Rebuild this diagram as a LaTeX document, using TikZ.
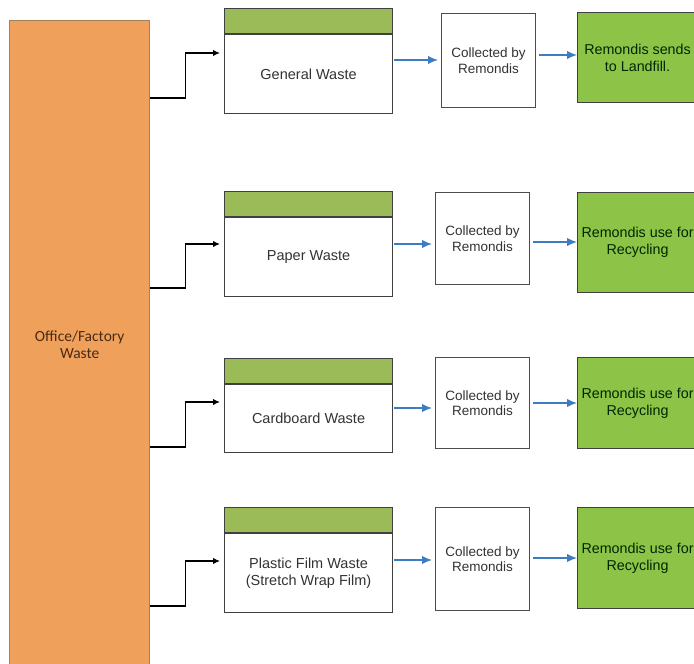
\documentclass[tikz,border=0pt]{standalone}
\usepackage{fontspec}
\setmainfont{Liberation Sans}
\newfontfamily\calibrifont{Carlito}
\usepackage{xcolor}
\usepackage{tikz}
\usetikzlibrary{calc,arrows.meta}
\definecolor{wasteorange}{HTML}{EFA15B}
\definecolor{wastetext}{HTML}{4A2A12}
\definecolor{binhead}{HTML}{9BBB59}
\definecolor{fategreen}{HTML}{8DC447}
\definecolor{flowblue}{HTML}{3D7CC2}
\tikzset{source/.style={draw=brown!60!gray,line width=1.4pt,fill=wasteorange,anchor=north west,minimum width=140pt,minimum height=648pt,align=center,text=wastetext,font=\calibrifont\fontsize{15.5}{17}\selectfont},
	bin head/.style={draw=black!75,line width=1.1pt,fill=binhead,anchor=north west,minimum width=168pt,minimum height=25pt,inner sep=0pt},
	bin/.style={draw=black!75,line width=1.1pt,fill=white,anchor=north west,minimum width=168pt,inner sep=0pt,align=center,text=black!80,font=\fontsize{14.5}{17}\selectfont},
	collect/.style={draw=black!70,line width=1.1pt,fill=white,anchor=north west,minimum width=94pt,inner sep=0pt,align=center,text=black!80,font=\fontsize{13.5}{15.5}\selectfont},
	fate/.style={draw=black!75,line width=1.1pt,fill=fategreen,anchor=north west,minimum width=120pt,inner sep=0pt,align=center,text=green!15!black,font=\fontsize{14.3}{17}\selectfont},
	feed/.style={line width=1.5pt,-{Latex[length=7pt,width=6.5pt]}},
	flow/.style={draw=flowblue,line width=1.5pt,-{Latex[length=10pt,width=8.5pt]}}}

\begin{document}
\begin{tikzpicture}[x=1pt,y=-1pt]
	\useasboundingbox (0,0) rectangle (694,664);
	\clip (0,0) rectangle (694,664);
	\node[source] (src) at (9,20) {Office/Factory\\Waste};
	% general waste
	\node[bin head] (h1) at (224,8) {};
	\node[bin,minimum height=79pt] (b1) at (h1.south west) {General Waste};
	\node[collect,minimum height=94pt] (c1) at (441,13) {Collected by\\Remondis};
	\node[fate,minimum height=90pt] (f1) at (577,12) {Remondis sends\\to Landfill.};
	% paper waste
	\node[bin head] (h2) at (224,191) {};
	\node[bin,minimum height=79pt] (b2) at (h2.south west) {Paper Waste};
	\node[collect,minimum height=92pt] (c2) at (435,192) {Collected by\\Remondis};
	\node[fate,minimum height=100pt] (f2) at (577,192) {Remondis use for\\Recycling};
	% cardboard waste
	\node[bin head] (h3) at (224,358) {};
	\node[bin,minimum height=68pt] (b3) at (h3.south west) {Cardboard Waste};
	\node[collect,minimum height=91pt] (c3) at (435,357) {Collected by\\Remondis};
	\node[fate,minimum height=91pt] (f3) at (577,357) {Remondis use for\\Recycling};
	% plastic film waste
	\node[bin head] (h4) at (224,507) {};
	\node[bin,minimum height=79pt] (b4) at (h4.south west) {Plastic Film Waste\\(Stretch Wrap Film)};
	\node[collect,minimum height=103pt] (c4) at (435,507) {Collected by\\Remondis};
	\node[fate,minimum height=101pt] (f4) at (577,507) {Remondis use for\\Recycling};

	\foreach \i/\out/\in/\mid/\last in {1/98/53/60/55,2/288/244/244/242,3/447/402/408/403,4/606/561/560/558}{
		\coordinate (in\i) at ($(b\i.west |- 0,\in)+(-4,0)$);
		\draw[feed] (src.east |- 0,\out) -- ++(35,0) |- (in\i);
		\draw[flow,shorten <=1pt,shorten >=3pt] (b\i.east |- 0,\mid) -- (c\i.west |- 0,\mid);
		\draw[flow,shorten <=3pt] (c\i.east |- 0,\last) -- (f\i.west |- 0,\last);
	}
\end{tikzpicture}
\end{document}
